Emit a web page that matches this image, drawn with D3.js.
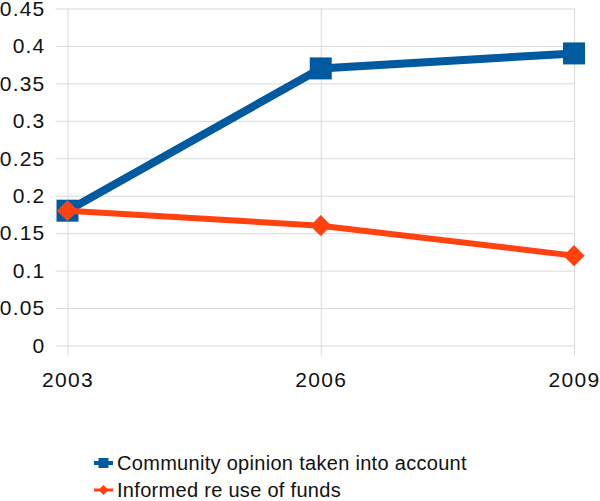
<!DOCTYPE html>
<html>
<head>
<meta charset="utf-8">
<script src="https://cdn.jsdelivr.net/npm/d3@7"></script>
<style>
  body { margin: 0; background: #fff; }
  svg { display: block; font-family: "Liberation Sans", Arial, sans-serif; }
</style>
</head>
<body>
<div id="chart"></div>
<script>
const years = ["2003", "2006", "2009"];
const community = [0.18, 0.37, 0.39];
const informed = [0.18, 0.16, 0.12];
const yTicks = [0, 0.05, 0.1, 0.15, 0.2, 0.25, 0.3, 0.35, 0.4, 0.45];
const seriesNames = ["Community opinion taken into account", "Informed re use of funds"];

const width = 600, height = 501;
const plotLeft = 67.5, plotRight = 574, plotTop = 8.5, plotBottom = 345.5;
const blue = "#005a9f", orange = "#ff420e", grid = "#d9d9d9";

const svg = d3.select("#chart").append("svg")
  .attr("width", width)
  .attr("height", height);

const x = d3.scalePoint().domain(years).range([plotLeft, plotRight]);
const y = d3.scaleLinear().domain([0, 0.45]).range([plotBottom, plotTop]);

// horizontal grid + y labels
svg.append("g")
  .attr("transform", "translate(" + plotLeft + ",0)")
  .call(d3.axisLeft(y).tickValues(yTicks).tickSize(12).tickFormat(d => String(+d.toFixed(2))))
  .call(g => g.select(".domain").remove())
  .call(g => g.selectAll(".tick line").attr("stroke", grid))
  .call(g => g.selectAll(".tick").append("line")
    .attr("x1", 0).attr("x2", plotRight - plotLeft).attr("stroke", grid))
  .call(g => g.selectAll(".tick text")
    .attr("x", -22).attr("font-size", 21).attr("letter-spacing", 1.2).attr("fill", "#111")
    .attr("font-family", "Liberation Sans, Arial, sans-serif"));

// vertical grid + x labels
svg.append("g")
  .attr("transform", "translate(0," + plotBottom + ")")
  .call(d3.axisBottom(x).tickSize(10))
  .call(g => g.select(".domain").remove())
  .call(g => g.selectAll(".tick line").attr("stroke", grid).attr("y1", plotTop - plotBottom))
  .call(g => g.selectAll(".tick text")
    .attr("y", 27).attr("font-size", 21).attr("letter-spacing", 1.3).attr("fill", "#111")
    .attr("font-family", "Liberation Sans, Arial, sans-serif"));

const line = d3.line().x((d, i) => x(years[i])).y(d => y(d));

// community (blue)
svg.append("path").datum(community)
  .attr("d", line).attr("fill", "none")
  .attr("stroke", blue).attr("stroke-width", 8);
svg.selectAll(".sq").data(community).enter().append("rect")
  .attr("x", (d, i) => x(years[i]) - 11).attr("y", d => y(d) - 11)
  .attr("width", 22).attr("height", 22)
  .attr("fill", blue);

// informed (orange)
svg.append("path").datum(informed)
  .attr("d", line).attr("fill", "none")
  .attr("stroke", orange).attr("stroke-width", 6);
svg.selectAll(".dia").data(informed).enter().append("rect")
  .attr("x", -7.5).attr("y", -7.5).attr("width", 15).attr("height", 15)
  .attr("fill", orange)
  .attr("transform", (d, i) => "translate(" + x(years[i]) + "," + y(d) + ") rotate(45)");

// legend
const legend = svg.append("g");
const lg = legend.selectAll("g").data(seriesNames).enter().append("g")
  .attr("transform", (d, i) => "translate(94," + (463 + i * 27) + ")");
lg.append("line").attr("x1", 0).attr("x2", 19)
  .attr("stroke", (d, i) => i ? orange : blue)
  .attr("stroke-width", (d, i) => i ? 3 : 4);
lg.filter((d, i) => i === 0).append("rect")
  .attr("x", 4.5).attr("y", -5).attr("width", 10).attr("height", 10).attr("fill", blue);
lg.filter((d, i) => i === 1).append("rect")
  .attr("x", -3.5).attr("y", -3.5).attr("width", 7).attr("height", 7).attr("fill", orange)
  .attr("transform", "translate(9.5,0) rotate(45)");
lg.append("text").attr("x", 23).attr("dy", "0.35em")
  .attr("font-size", 20).attr("letter-spacing", 0.3).attr("fill", "#111")
  .text(d => d);
</script>
</body>
</html>
